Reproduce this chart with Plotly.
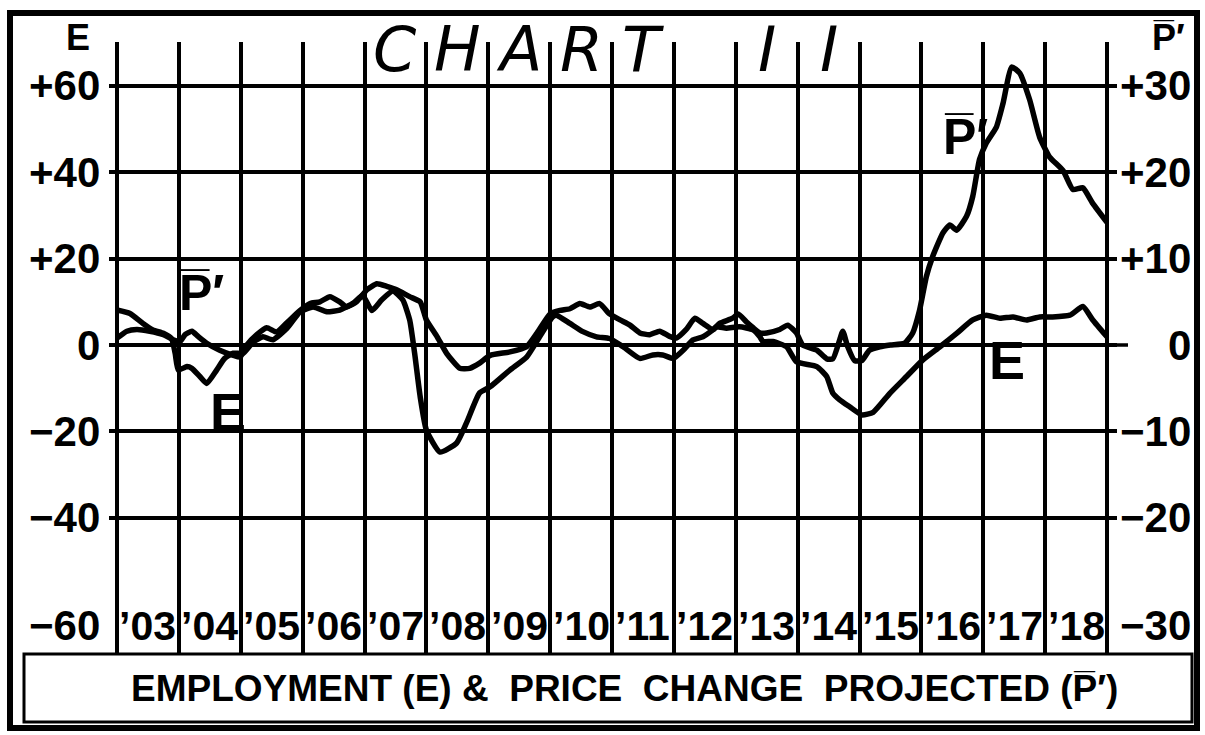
import plotly.graph_objects as go

# ---------------- data ----------------
E_YEARS = [1903.00, 1903.21, 1903.42, 1903.58, 1903.75, 1903.88, 1903.94, 1903.99, 1904.13, 1904.21,
           1904.34, 1904.45, 1904.61, 1904.74, 1904.88, 1905.04, 1905.20, 1905.36, 1905.52, 1905.75,
           1905.96, 1906.17, 1906.39, 1906.60, 1906.82, 1906.97, 1907.12, 1907.28, 1907.46, 1907.62,
           1907.73, 1907.81, 1907.90, 1908.00, 1908.22, 1908.49, 1908.65, 1908.86, 1909.03, 1909.35,
           1909.62, 1909.83, 1910.04, 1910.10, 1910.32, 1910.53, 1910.75, 1910.96, 1911.18, 1911.45,
           1911.66, 1911.82, 1911.99, 1912.15, 1912.31, 1912.47, 1912.63, 1912.69, 1912.85, 1913.06,
           1913.28, 1913.39, 1913.44, 1913.60, 1913.82, 1913.98, 1914.31, 1914.47, 1914.57, 1914.68,
           1914.84, 1915.04, 1915.22, 1915.49, 1915.76, 1916.02, 1916.30, 1916.57, 1916.83, 1917.05,
           1917.27, 1917.48, 1917.70, 1917.91, 1918.12, 1918.40, 1918.61, 1918.77, 1919.00]
E_VALUES = [8.1, 7.3, 5.0, 3.5, 2.7, 1.5, -1.9, -5.8, -5.0, -5.4,
            -7.3, -8.9, -5.8, -3.1, -1.9, -1.9, 0.7, 1.9, 1.2, 3.9,
            7.7, 8.8, 7.7, 8.1, 9.7, 11.5, 8.0, 10.5, 12.5, 10.4,
            5.8, -1.9, -12.0, -19.7, -24.8, -22.7, -18.0, -11.1, -9.7, -5.8,
            -2.8, 1.9, 6.5, 6.9, 5.0, 3.1, 1.9, 1.5, -0.4, -3.1,
            -2.3, -2.3, -3.1, -1.2, 1.2, 1.9, 3.5, 4.2, 3.9, 4.2,
            3.5, 1.9, 0.8, 0.8, -0.4, -3.9, -5.0, -7.3, -11.2, -12.7,
            -14.3, -16.2, -15.6, -11.2, -7.3, -3.5, -0.4, 2.7, 5.8, 6.9,
            6.2, 6.5, 5.8, 6.5, 6.5, 6.9, 8.9, 5.8, 1.9]

P_YEARS = [1903.00, 1903.16, 1903.32, 1903.53, 1903.75, 1903.91, 1904.02, 1904.10, 1904.21, 1904.31,
           1904.45, 1904.66, 1904.88, 1904.99, 1905.10, 1905.26, 1905.42, 1905.58, 1905.75, 1905.96,
           1906.12, 1906.28, 1906.44, 1906.60, 1906.71, 1906.87, 1907.04, 1907.20, 1907.36, 1907.52,
           1907.73, 1907.90, 1908.00, 1908.17, 1908.33, 1908.54, 1908.70, 1908.86, 1909.03, 1909.35,
           1909.62, 1909.79, 1910.00, 1910.16, 1910.32, 1910.48, 1910.64, 1910.80, 1910.96, 1911.13,
           1911.29, 1911.45, 1911.61, 1911.77, 1911.93, 1912.04, 1912.20, 1912.34, 1912.47, 1912.63,
           1912.74, 1912.95, 1913.04, 1913.17, 1913.28, 1913.39, 1913.50, 1913.71, 1913.84, 1913.98,
           1914.08, 1914.31, 1914.47, 1914.57, 1914.68, 1914.73, 1914.81, 1914.92, 1915.04, 1915.16,
           1915.33, 1915.50, 1915.73, 1915.86, 1915.97, 1916.08, 1916.18, 1916.35, 1916.46, 1916.57,
           1916.73, 1916.83, 1916.94, 1917.05, 1917.21, 1917.32, 1917.46, 1917.59, 1917.75, 1917.91,
           1918.07, 1918.29, 1918.45, 1918.61, 1918.77, 1919.00]
P_VALUES = [0.8, 1.6, 1.8, 1.6, 1.2, 0.6, 0.4, 1.2, 1.6, 1.0,
            0.2, -0.6, -1.2, -1.4, 0.0, 1.2, 2.0, 1.5, 2.6, 4.0,
            4.8, 5.0, 5.6, 5.0, 4.4, 5.0, 6.4, 7.1, 6.8, 6.4,
            5.6, 5.0, 2.9, 1.0, -1.0, -2.7, -2.7, -2.1, -1.2, -0.8,
            -0.2, 1.4, 3.6, 4.0, 4.2, 4.8, 4.4, 4.8, 3.6, 2.9,
            2.3, 1.4, 1.2, 1.6, 1.0, 0.8, 1.8, 3.1, 2.5, 1.8,
            2.5, 3.1, 3.6, 2.7, 2.0, 1.4, 1.4, 1.8, 2.3, 1.4,
            0.0, -0.6, -1.6, -1.6, 0.6, 1.6, -0.2, -1.8, -1.8, -0.6,
            -0.2, 0.0, 0.2, 1.4, 4.0, 7.9, 10.2, 13.0, 13.9, 13.3,
            14.9, 17.2, 21.5, 23.4, 25.2, 28.0, 32.2, 31.5, 28.4, 24.1,
            21.8, 20.2, 18.0, 18.2, 16.4, 14.2]

YEAR_BOUNDS = list(range(1903, 1920))
YEAR_LABELS = ["\u201903", "\u201904", "\u201905", "\u201906", "\u201907", "\u201908", "\u201909", "\u201910",
               "\u201911", "\u201912", "\u201913", "\u201914", "\u201915", "\u201916", "\u201917", "\u201918"]
E_TICKS = [60, 40, 20, 0, -20, -40, -60]
E_TICK_TEXT = ["+60", "+40", "+20", "0", "\u221220", "\u221240", "\u221260"]
P_TICKS = [30, 20, 10, 0, -10, -20, -30]
P_TICK_TEXT = ["+30", "+20", "+10", "0", "\u221210", "\u221220", "\u221230"]
E_GRID = [60, 40, 20, 0, -20, -40]
TITLE_LETTERS = ["C", "H", "A", "R", "T", "I", "I"]
TITLE_YEARS = [1907, 1908, 1909, 1910, 1911, 1913, 1914]
PBAR = "P\u0305\u2032"
FOOTER = "EMPLOYMENT (E) &amp;  PRICE  CHANGE  PROJECTED (" + PBAR + ")"

# ---------------- layout geometry ----------------
W, H = 1205, 735
L_M, R_M, T_M, B_M = 109, 88, 42, 82
PLOT_W = W - L_M - R_M
PLOT_H = H - T_M - B_M
X0_PX, PX_PER_YEAR = 117, 61.875      # pixel of first year line, pixels per year
Y0_PX, PX_PER_E = 345, 4.317          # pixel of zero line, pixels per E unit

x_lo = YEAR_BOUNDS[0] - (X0_PX - L_M) / PX_PER_YEAR
x_hi = YEAR_BOUNDS[-1] + ((W - R_M) - (X0_PX + PX_PER_YEAR * (len(YEAR_BOUNDS) - 1))) / PX_PER_YEAR
y_hi = (Y0_PX - T_M) / PX_PER_E
y_lo = -((H - B_M) - Y0_PX) / PX_PER_E


def px(xp):
    return (xp - L_M) / PLOT_W


def py(yp):
    return ((H - B_M) - yp) / PLOT_H


LAB = "Liberation Sans, Arial, sans-serif"


def f(size, weight="bold", family=LAB):
    return dict(family=family, size=size, color="black", weight=weight)


LINE = dict(color="black", width=5.5, shape="spline", smoothing=0.5)

fig = go.Figure()
fig.add_trace(go.Scatter(x=E_YEARS, y=E_VALUES, mode="lines", line=LINE, name="E", yaxis="y"))
fig.add_trace(go.Scatter(x=P_YEARS, y=P_VALUES, mode="lines", line=LINE, name="P'", yaxis="y2"))

ann = []
# left tick labels
for v, t in zip(E_TICKS, E_TICK_TEXT):
    yv = v if v != -60 else -65
    ann.append(dict(x=px(101), xref="paper", y=yv, yref="y", text=t, showarrow=False,
                    xanchor="right", yanchor="middle", borderpad=0, font=f(42)))
# right tick labels
for v, t in zip(P_TICKS, P_TICK_TEXT):
    yv = v if v != -30 else -32.5
    ann.append(dict(x=px(1192), xref="paper", y=yv, yref="y2", text=t, showarrow=False,
                    xanchor="right", yanchor="middle", borderpad=0, font=f(42)))
# axis name labels
ann.append(dict(x=px(78), xref="paper", y=py(38), yref="paper", text="E", showarrow=False,
                xanchor="center", yanchor="middle", borderpad=0, font=f(36)))
ann.append(dict(x=px(1168), xref="paper", y=py(38), yref="paper", text=PBAR, showarrow=False,
                xanchor="center", yanchor="middle", borderpad=0, font=f(36)))
# title letters
for letter, yr in zip(TITLE_LETTERS, TITLE_YEARS):
    ann.append(dict(x=yr + 0.5, xref="x", y=py(50), yref="paper", text="<i>" + letter + "</i>",
                    showarrow=False, xanchor="center", yanchor="middle",
                    font=f(62, "normal", "DejaVu Sans")))
# year labels
for i, lab in enumerate(YEAR_LABELS):
    ann.append(dict(x=YEAR_BOUNDS[i] + 0.5, xref="x", y=-65, yref="y", text=lab, showarrow=False,
                    xanchor="center", yanchor="middle", borderpad=0, font=f(41)))
# series labels inside plot
ann.append(dict(x=1904.37, xref="x", y=12, yref="y", text=PBAR, showarrow=False, font=f(50)))
ann.append(dict(x=1904.79, xref="x", y=-15.5, yref="y", text="E", showarrow=False, font=f(54)))
ann.append(dict(x=1916.71, xref="x", y=48.2, yref="y", text=PBAR, showarrow=False, font=f(50)))
ann.append(dict(x=1917.38, xref="x", y=-3.5, yref="y", text="E", showarrow=False, font=f(54)))
# footer text
ann.append(dict(x=px(624), xref="paper", y=py(688), yref="paper", text=FOOTER, showarrow=False,
                xanchor="center", yanchor="middle", font=f(37)))

shapes = [
    # outer frame
    dict(type="rect", xref="paper", yref="paper", x0=px(10), x1=px(1197), y0=py(13), y1=py(728),
         line=dict(color="black", width=6), layer="above"),
    # footer box
    dict(type="rect", xref="paper", yref="paper", x0=px(24), x1=px(1192), y0=py(654), y1=py(722),
         line=dict(color="black", width=3), layer="above"),
    # zero line extension on right
    dict(type="line", xref="paper", yref="y", x0=1.0, x1=px(1128), y0=0, y1=0,
         line=dict(color="black", width=3.5)),
]

fig.update_layout(
    width=W, height=H,
    margin=dict(l=L_M, r=R_M, t=T_M, b=B_M, pad=0),
    paper_bgcolor="white", plot_bgcolor="white",
    showlegend=False,
    annotations=ann, shapes=shapes,
    xaxis=dict(range=[x_lo, x_hi], tickvals=YEAR_BOUNDS, showticklabels=False, ticks="",
               showgrid=True, gridcolor="black", gridwidth=4, zeroline=False, showline=False, fixedrange=True),
    yaxis=dict(range=[y_lo, y_hi], tickvals=E_GRID, showticklabels=False, ticks="",
               showgrid=True, gridcolor="black", gridwidth=3.5, zeroline=False, showline=False, fixedrange=True),
    yaxis2=dict(range=[y_lo / 2, y_hi / 2], overlaying="y", side="right", showgrid=False,
                showticklabels=False, ticks="", zeroline=False, showline=False, fixedrange=True),
)

fig.write_html("out.html", config={"displayModeBar": False},
               post_script="document.body.style.margin='0';document.body.style.overflow='hidden';")
